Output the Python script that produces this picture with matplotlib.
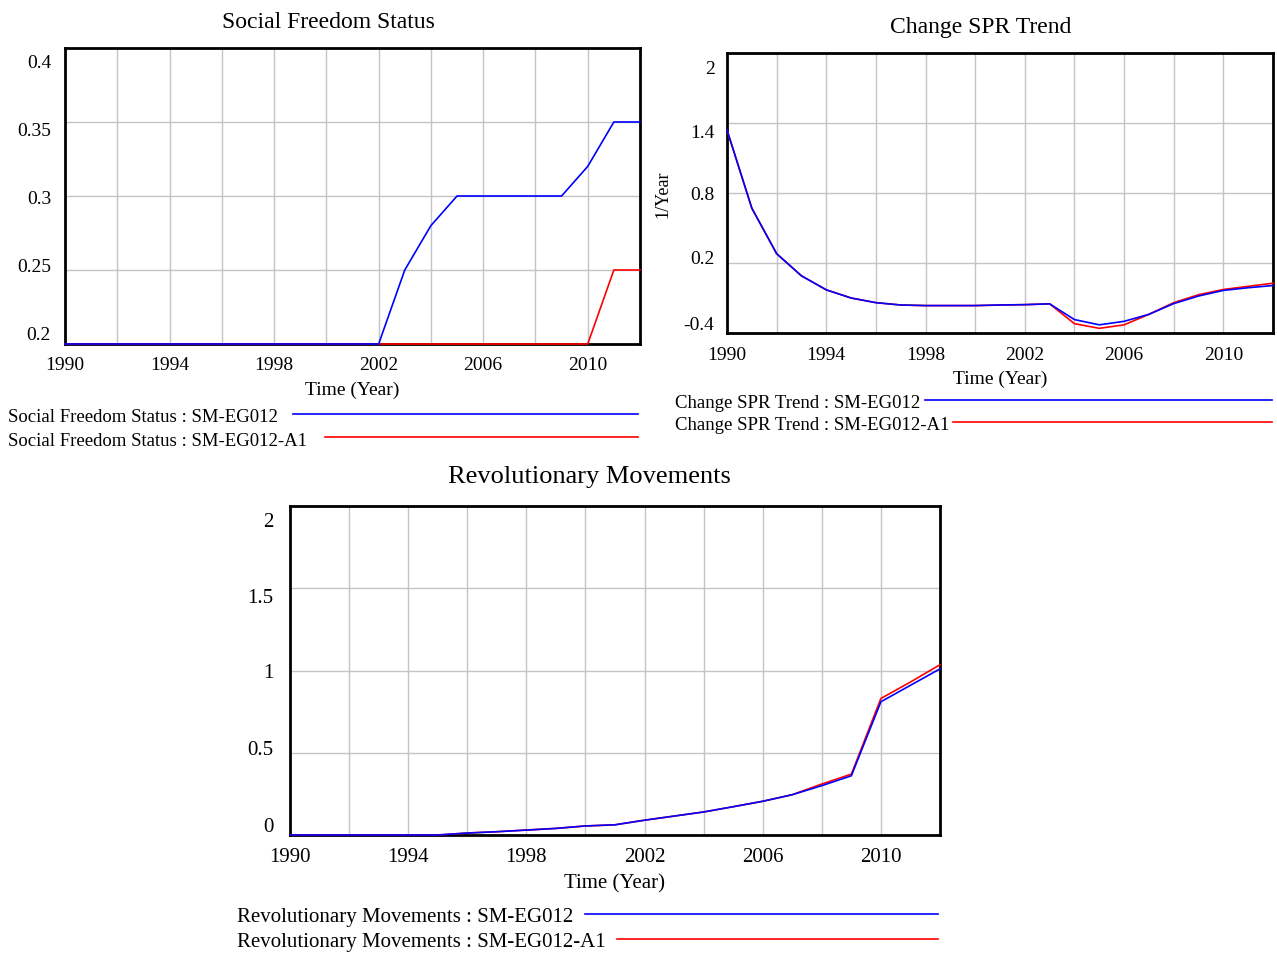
import numpy as np
import matplotlib
matplotlib.use('Agg')
import matplotlib.pyplot as plt
import matplotlib.transforms as mtransforms
from matplotlib.lines import Line2D

plt.rcParams['font.family'] = ['Liberation Serif', 'DejaVu Serif']

# data (yearly values 1990-2012)
years = np.arange(1990, 2013)

sfs_base = [0.2, 0.2, 0.2, 0.2, 0.2, 0.2, 0.2, 0.2, 0.2, 0.2, 0.2, 0.2,
            0.2, 0.25, 0.28, 0.3, 0.3, 0.3, 0.3, 0.3, 0.32, 0.35, 0.35]
sfs_a1 = [0.2, 0.2, 0.2, 0.2, 0.2, 0.2, 0.2, 0.2, 0.2, 0.2, 0.2, 0.2,
          0.2, 0.2, 0.2, 0.2, 0.2, 0.2, 0.2, 0.2, 0.2, 0.25, 0.25]

spr_base = [1.34, 0.67, 0.28, 0.09, -0.03, -0.10, -0.14, -0.16, -0.165, -0.165,
            -0.165, -0.16, -0.157, -0.15, -0.285, -0.33, -0.30, -0.24, -0.148,
            -0.083, -0.035, -0.012, 0.007]
spr_a1 = [1.34, 0.67, 0.28, 0.09, -0.03, -0.10, -0.14, -0.16, -0.165, -0.165,
          -0.165, -0.16, -0.157, -0.15, -0.32, -0.36, -0.33, -0.24, -0.14,
          -0.072, -0.027, 0.0, 0.027]

rev_base = [0.0, 0.0, 0.0, 0.0, 0.0, 0.0, 0.012, 0.02, 0.03, 0.04, 0.055, 0.062,
            0.09, 0.115, 0.14, 0.172, 0.205, 0.245, 0.30, 0.36, 0.81, 0.91, 1.01]
rev_a1 = [0.0, 0.0, 0.0, 0.0, 0.0, 0.0, 0.012, 0.02, 0.03, 0.04, 0.055, 0.062,
          0.09, 0.115, 0.14, 0.172, 0.205, 0.245, 0.31, 0.37, 0.83, 0.93, 1.035]

sfs_ticks = [0.2, 0.25, 0.3, 0.35, 0.4]
sfs_labels = ['0.2', '0.25', '0.3', '0.35', '0.4']
spr_ticks = [-0.4, 0.2, 0.8, 1.4, 2.0]
spr_labels = ['-0.4', '0.2', '0.8', '1.4', '2']
rev_ticks = [0, 0.5, 1, 1.5, 2]
rev_labels = ['0', '0.5', '1', '1.5', '2']
year_ticks = [1990, 1994, 1998, 2002, 2006, 2010]

W, H = 1277, 954
fig = plt.figure(figsize=(W / 100, H / 100), dpi=100)


def box(l, t, r, b):
    # pixel box -> figure fraction rect
    return [l / W, 1 - b / H, (r - l) / W, (b - t) / H]


def fx(px):
    return px / W


def fy(py):
    return 1 - py / H


# vensim squeezes the y labels toward the middle (pixels, up is positive)
label_shift = [11, 6, 0, -7, -13]


def setup(ax, ticks, labels, fs, ypad=9):
    ax.set_xlim(1990, 2012)
    ax.set_xticks(year_ticks)
    ax.set_xticks(np.arange(1990, 2013, 2), minor=True)
    ax.set_yticks(ticks)
    ax.set_yticklabels(labels)
    ax.set_ylim(ticks[0], ticks[-1])
    ax.grid(True, which='both', color='#c4c4c4', linewidth=1)
    ax.tick_params(which='both', length=0, labelsize=fs)
    ax.tick_params(axis='y', pad=ypad)
    ax.tick_params(axis='x', pad=9)
    for s in ax.spines.values():
        s.set_linewidth(2)
        s.set_color('black')
    ax.set_xlabel('Time (Year)', fontsize=fs, labelpad=5)
    for lab, dy in zip(ax.get_yticklabels(), label_shift):
        off = mtransforms.ScaledTranslation(0, dy / 100, fig.dpi_scale_trans)
        lab.set_transform(lab.get_transform() + off)


def draw(ax, base, alt):
    ax.plot(years, alt, color='#ff0000', lw=1.2, zorder=3, clip_on=False)
    ax.plot(years, base, color='#0000ff', lw=1.2, zorder=3, clip_on=False)


# Social Freedom Status
ax1 = fig.add_axes(box(65, 49, 640, 345))
draw(ax1, sfs_base, sfs_a1)
setup(ax1, sfs_ticks, sfs_labels, 14, ypad=10)
fig.text(fx(328), fy(22), 'Social Freedom Status', fontsize=17, ha='center', va='center')

# Change SPR Trend
ax2 = fig.add_axes(box(727, 54, 1273, 334))
draw(ax2, spr_base, spr_a1)
setup(ax2, spr_ticks, spr_labels, 14, ypad=9)
ax2.set_ylabel('1/Year', fontsize=13, labelpad=9)
fig.text(fx(981), fy(28), 'Change SPR Trend', fontsize=17, ha='center', va='center')

# Revolutionary Movements
ax3 = fig.add_axes(box(290, 507, 940, 836))
draw(ax3, rev_base, rev_a1)
setup(ax3, rev_ticks, rev_labels, 15, ypad=12)
fig.text(fx(589), fy(477), 'Revolutionary Movements', fontsize=19, ha='center', va='center')

# legends under each chart
legends = [
    ('Social Freedom Status : SM-EG012', '#0000ff', 8, 415, 293, 638, 13.5),
    ('Social Freedom Status : SM-EG012-A1', '#ff0000', 8, 438, 325, 638, 13.5),
    ('Change SPR Trend : SM-EG012', '#0000ff', 675, 401, 925, 1272, 13.5),
    ('Change SPR Trend : SM-EG012-A1', '#ff0000', 675, 423, 953, 1272, 13.5),
    ('Revolutionary Movements : SM-EG012', '#0000ff', 237, 915, 585, 938, 15),
    ('Revolutionary Movements : SM-EG012-A1', '#ff0000', 237, 940, 617, 938, 15),
]
for txt, col, tx, ty, x0, x1, fs in legends:
    fig.text(fx(tx), fy(ty + 3), txt, fontsize=fs, ha='left', va='center')
    fig.add_artist(Line2D([fx(x0), fx(x1)], [fy(ty), fy(ty)], color=col, lw=1.2,
                          transform=fig.transFigure))

fig.savefig('out.png', dpi=100)
